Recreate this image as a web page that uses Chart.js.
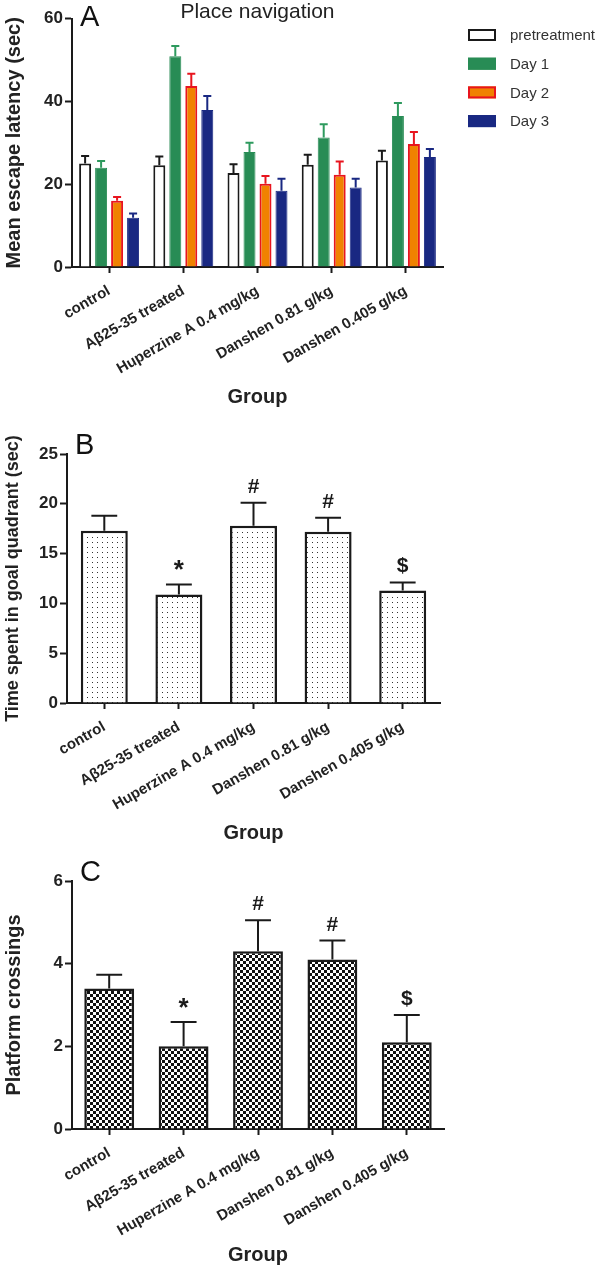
<!DOCTYPE html>
<html>
<head>
<meta charset="utf-8">
<script src="https://cdn.jsdelivr.net/npm/chart.js@4"></script>
<style>
  html, body { margin: 0; padding: 0; background: #fff; }
  .panel { position: absolute; left: 0; width: 600px; }
</style>
</head>
<body>
<div class="panel" style="top:0;height:410px"><canvas id="chartA"></canvas></div>
<div class="panel" style="top:410px;height:440px"><canvas id="chartB"></canvas></div>
<div class="panel" style="top:850px;height:421px"><canvas id="chartC"></canvas></div>
<script>
const groups = ["control", "Aβ25-35 treated", "Huperzine A 0.4 mg/kg", "Danshen 0.81 g/kg", "Danshen 0.405 g/kg"]

// A: place navigation, mean escape latency (sec), mean and SEM
const pretreatment = [25, 24.6, 22.7, 24.7, 25.7]
const pretreatmentErr = [1.8, 2.1, 2.1, 2.4, 2.4]
const day1 = [24, 50.9, 27.8, 31.3, 36.5]
const day1Err = [1.6, 2.5, 2.2, 3.2, 3.1]
const day2 = [16, 43.7, 20.1, 22.3, 29.7]
const day2Err = [0.9, 3.0, 1.9, 3.2, 2.9]
const day3 = [11.9, 37.9, 18.4, 19.2, 26.6]
const day3Err = [1.0, 3.4, 2.9, 2.1, 1.9]
const latencyTicks = [0, 20, 40, 60]

// B: time spent in goal quadrant (sec)
const goalTime = [17.3, 10.9, 17.8, 17.2, 11.3]
const goalTimeErr = [1.5, 1.0, 2.3, 1.4, 0.8]
const goalTicks = [0, 5, 10, 15, 20, 25]

// C: platform crossings
const crossings = [3.4, 2.0, 4.3, 4.1, 2.1]
const crossingsErr = [0.33, 0.59, 0.75, 0.46, 0.66]
const crossingTicks = [0, 2, 4, 6]

// significance marks over B and C
const marks = ["", "*", "#", "#", "$"]

Chart.defaults.font.family = "'Liberation Sans', Arial, sans-serif"
Chart.defaults.color = "#222"
Chart.defaults.animation = false

const INK = "#1a1a1a"

// one-sided SEM bars with a cap, drawn through the y scale
const errorBars = {
  id: "errorBars",
  afterDatasetsDraw(chart, args, opts) {
    const { ctx } = chart
    const y = chart.scales.y
    chart.data.datasets.forEach((ds, i) => {
      if (!ds.errors) return
      chart.getDatasetMeta(i).data.forEach((bar, j) => {
        const top = y.getPixelForValue(ds.data[j] + ds.errors[j])
        const half = bar.width * opts.cap / 2
        ctx.save()
        ctx.strokeStyle = ds.errorColor || INK
        ctx.lineWidth = 2
        ctx.beginPath()
        ctx.moveTo(bar.x, bar.y)
        ctx.lineTo(bar.x, top)
        ctx.moveTo(bar.x - half, top)
        ctx.lineTo(bar.x + half, top)
        ctx.stroke()
        ctx.restore()
      })
    })
  }
}

const sigMarks = {
  id: "sigMarks",
  afterDatasetsDraw(chart, args, opts) {
    if (!opts.marks) return
    const { ctx } = chart
    const y = chart.scales.y
    const ds = chart.data.datasets[0]
    chart.getDatasetMeta(0).data.forEach((bar, j) => {
      const m = opts.marks[j]
      if (!m) return
      const top = y.getPixelForValue(ds.data[j] + ds.errors[j])
      ctx.save()
      // the asterisk glyph is small, so it gets a bigger size
      ctx.font = "bold " + (m === "*" ? 26 : 21) + "px 'Liberation Sans', Arial, sans-serif"
      ctx.fillStyle = INK
      ctx.textAlign = "center"
      ctx.textBaseline = "alphabetic"
      ctx.fillText(m, bar.x, top - (m === "*" ? 6 : 10))
      ctx.restore()
    })
  }
}

const panelLetter = {
  id: "panelLetter",
  afterDraw(chart, args, opts) {
    const { ctx, chartArea } = chart
    ctx.save()
    ctx.font = "29px 'Liberation Sans', Arial, sans-serif"
    ctx.fillStyle = "#111"
    ctx.textBaseline = "alphabetic"
    ctx.fillText(opts.text, chartArea.left + 8, chartArea.top + opts.dy)
    ctx.restore()
  }
}

// legend column to the right of the plot, built from the datasets
const sideLegend = {
  id: "sideLegend",
  afterDraw(chart, args, opts) {
    if (!opts.show) return
    const { ctx, chartArea } = chart
    ctx.save()
    chart.data.datasets.forEach((ds, i) => {
      const x = chartArea.right + opts.dx
      const y = opts.top + i * opts.step
      const lw = ds.borderWidth
      ctx.fillStyle = ds.backgroundColor
      ctx.fillRect(x, y, 28, 12)
      ctx.strokeStyle = ds.borderColor
      ctx.lineWidth = lw
      ctx.strokeRect(x + lw / 2, y + lw / 2, 28 - lw, 12 - lw)
      ctx.fillStyle = "#333"
      ctx.font = "15px 'Liberation Sans', Arial, sans-serif"
      ctx.textBaseline = "middle"
      ctx.fillText(ds.label, x + 42, y + 7)
    })
    ctx.restore()
  }
}

function xAxis(height, titlePad) {
  return {
    afterFit: (s) => { s.height = height },
    grid: { display: true, drawOnChartArea: false, drawTicks: true, offset: false, tickLength: 6, tickWidth: 2, tickColor: INK },
    border: { display: true, color: INK, width: 2 },
    ticks: { maxRotation: 30, minRotation: 30, padding: 9, font: { size: 15, weight: "bold" }, color: "#222" },
    title: { display: true, text: "Group", font: { size: 20, weight: "bold" }, color: "#222", padding: { top: 0, bottom: titlePad } }
  }
}

function yAxis(width, max, tickValues, text, size) {
  return {
    min: 0,
    max: max,
    afterFit: (s) => { s.width = width },
    afterBuildTicks: (s) => { s.ticks = tickValues.map((v) => ({ value: v })) },
    grid: { display: true, drawOnChartArea: false, drawTicks: true, tickLength: 7, tickWidth: 2, tickColor: INK },
    border: { display: true, color: INK, width: 2 },
    ticks: { padding: 2, font: { size: 17, weight: "bold" }, color: "#222" },
    title: { display: true, text: text, font: { size: size, weight: "bold" }, color: "#222", padding: { top: 2, bottom: 0 } }
  }
}

function patternFor(canvasId, size, paint) {
  const tile = document.createElement("canvas")
  tile.width = size
  tile.height = size
  const g = tile.getContext("2d")
  g.fillStyle = "#fff"
  g.fillRect(0, 0, size, size)
  paint(g)
  return document.getElementById(canvasId).getContext("2d").createPattern(tile, "repeat")
}

// Panel A
new Chart(document.getElementById("chartA"), {
  type: "bar",
  data: {
    labels: groups,
    datasets: [
      { label: "pretreatment", data: pretreatment, errors: pretreatmentErr, backgroundColor: "#ffffff", borderColor: INK, borderWidth: 2, errorColor: INK },
      { label: "Day 1", data: day1, errors: day1Err, backgroundColor: "#288c55", borderColor: "#288c55", borderWidth: 1, errorColor: "#2e9a5e" },
      { label: "Day 2", data: day2, errors: day2Err, backgroundColor: "#f08200", borderColor: "#e8141e", borderWidth: 2, errorColor: "#e8141e" },
      { label: "Day 3", data: day3, errors: day3Err, backgroundColor: "#192882", borderColor: "#192882", borderWidth: 1, errorColor: "#192882" }
    ]
  },
  options: {
    responsive: true,
    maintainAspectRatio: false,
    categoryPercentage: 0.862,
    barPercentage: 0.75,
    layout: { padding: { left: 0, right: 157, top: 0, bottom: 0 } },
    scales: {
      x: xAxis(143, 1),
      y: yAxis(72, 60, latencyTicks, "Mean escape latency (sec)", 20)
    },
    plugins: {
      title: {
        display: true,
        text: "Place navigation",
        fullSize: false,
        color: "#222",
        font: { size: 21, weight: "normal", lineHeight: 0.6 },
        padding: { top: 6, bottom: 0 }
      },
      legend: { display: false },
      tooltip: { enabled: false },
      errorBars: { cap: 0.67 },
      panelLetter: { text: "A", dy: 7 },
      sideLegend: { show: true, dx: 25, top: 29, step: 28.7 }
    }
  },
  plugins: [errorBars, panelLetter, sideLegend]
})

// Panel B
const dots = patternFor("chartB", 5, (g) => {
  g.fillStyle = "#333"
  g.fillRect(2, 2, 1, 1)
})

new Chart(document.getElementById("chartB"), {
  type: "bar",
  data: {
    labels: groups,
    datasets: [
      { label: "Time spent in goal quadrant", data: goalTime, errors: goalTimeErr, backgroundColor: dots, borderColor: INK, borderWidth: 2.5 }
    ]
  },
  options: {
    responsive: true,
    maintainAspectRatio: false,
    categoryPercentage: 1,
    barPercentage: 0.63,
    layout: { padding: { left: 0, right: 160, top: 44, bottom: 0 } },
    scales: {
      x: xAxis(147, 5),
      y: yAxis(67, 25, goalTicks, "Time spent in goal quadrant (sec)", 18)
    },
    plugins: {
      legend: { display: false },
      tooltip: { enabled: false },
      errorBars: { cap: 0.55 },
      sigMarks: { marks: marks },
      panelLetter: { text: "B", dy: 0 }
    }
  },
  plugins: [errorBars, sigMarks, panelLetter]
})

// Panel C
const checks = patternFor("chartC", 6, (g) => {
  g.fillStyle = "#111"
  g.fillRect(0, 0, 3, 3)
  g.fillRect(3, 3, 3, 3)
})

new Chart(document.getElementById("chartC"), {
  type: "bar",
  data: {
    labels: groups,
    datasets: [
      { label: "Platform crossings", data: crossings, errors: crossingsErr, backgroundColor: checks, borderColor: INK, borderWidth: 2.5 }
    ]
  },
  options: {
    responsive: true,
    maintainAspectRatio: false,
    categoryPercentage: 1,
    barPercentage: 0.67,
    layout: { padding: { left: 0, right: 156, top: 31, bottom: 0 } },
    scales: {
      x: xAxis(142, 4),
      y: yAxis(72, 6, crossingTicks, "Platform crossings", 20)
    },
    plugins: {
      legend: { display: false },
      tooltip: { enabled: false },
      errorBars: { cap: 0.52 },
      sigMarks: { marks: marks },
      panelLetter: { text: "C", dy: 0 }
    }
  },
  plugins: [errorBars, sigMarks, panelLetter]
})
</script>
</body>
</html>
